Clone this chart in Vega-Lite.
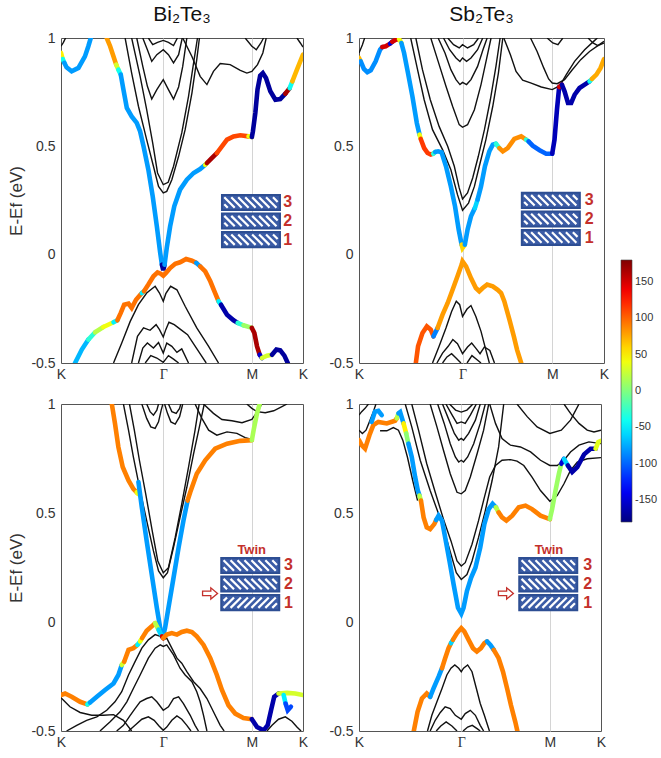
{
"$schema":"https://vega.github.io/schema/vega-lite/v6.json",
"background":"white",
"padding":{"left":7,"top":3,"right":0,"bottom":0},
"autosize":{"type":"pad"},
"config":{
 "view":{"stroke":"#555","strokeWidth":1},
 "font":"Liberation Sans",
 "axis":{"labelFont":"Liberation Sans","labelFontSize":14,"labelColor":"#333","titleFont":"Liberation Sans","titleFontSize":17,"titleFontWeight":"normal","titleColor":"#333","domain":false,"ticks":false},
 "title":{"font":"Liberation Sans","fontSize":21,"fontWeight":"normal","color":"#111","offset":6}
},
"datasets":{
"bands":[
{"p":1,"b":1,"k":0.265,"e":1},{"p":1,"b":1,"k":0.292,"e":0.838},{"p":1,"b":1,"k":0.320,"e":0.685},{"p":1,"b":1,"k":0.354,"e":0.531},{"p":1,"b":1,"k":0.382,"e":0.408},{"p":1,"b":1,"k":0.403,"e":0.315},{"p":1,"b":1,"k":0.4226,"e":0.285},{"p":1,"b":1,"k":0.437,"e":0.292},{"p":1,"b":1,"k":0.458,"e":0.346},{"p":1,"b":1,"k":0.486,"e":0.454},{"p":1,"b":1,"k":0.513,"e":0.577},{"p":1,"b":1,"k":0.541,"e":0.746},{"p":1,"b":1,"k":0.561,"e":0.9},{"p":1,"b":1,"k":0.572,"e":1},
{"p":1,"b":2,"k":0.292,"e":1},{"p":1,"b":2,"k":0.327,"e":0.823},{"p":1,"b":2,"k":0.354,"e":0.669},{"p":1,"b":2,"k":0.379,"e":0.515},{"p":1,"b":2,"k":0.399,"e":0.377},{"p":1,"b":2,"k":0.4226,"e":0.323},{"p":1,"b":2,"k":0.443,"e":0.334},{"p":1,"b":2,"k":0.465,"e":0.408},{"p":1,"b":2,"k":0.499,"e":0.562},{"p":1,"b":2,"k":0.527,"e":0.731},{"p":1,"b":2,"k":0.550,"e":0.9},{"p":1,"b":2,"k":0.564,"e":1},
{"p":1,"b":3,"k":0.313,"e":1},{"p":1,"b":3,"k":0.338,"e":0.869},{"p":1,"b":3,"k":0.357,"e":0.777},{"p":1,"b":3,"k":0.375,"e":0.718},{"p":1,"b":3,"k":0.396,"e":0.762},{"p":1,"b":3,"k":0.4226,"e":0.808},{"p":1,"b":3,"k":0.444,"e":0.762},{"p":1,"b":3,"k":0.465,"e":0.718},{"p":1,"b":3,"k":0.486,"e":0.774},{"p":1,"b":3,"k":0.503,"e":0.869},{"p":1,"b":3,"k":0.520,"e":1},
{"p":1,"b":4,"k":0.338,"e":1},{"p":1,"b":4,"k":0.357,"e":0.946},{"p":1,"b":4,"k":0.375,"e":0.892},{"p":1,"b":4,"k":0.396,"e":0.923},{"p":1,"b":4,"k":0.4226,"e":0.946},{"p":1,"b":4,"k":0.444,"e":0.923},{"p":1,"b":4,"k":0.465,"e":0.885},{"p":1,"b":4,"k":0.486,"e":0.923},{"p":1,"b":4,"k":0.501,"e":1},
{"p":1,"b":5,"k":0.361,"e":1},{"p":1,"b":5,"k":0.379,"e":0.969},{"p":1,"b":5,"k":0.399,"e":0.98},{"p":1,"b":5,"k":0.4226,"e":0.989},{"p":1,"b":5,"k":0.444,"e":0.98},{"p":1,"b":5,"k":0.465,"e":0.965},{"p":1,"b":5,"k":0.481,"e":1},
{"p":1,"b":6,"k":0.503,"e":1},{"p":1,"b":6,"k":0.541,"e":0.915},{"p":1,"b":6,"k":0.575,"e":0.823},{"p":1,"b":6,"k":0.603,"e":0.785},{"p":1,"b":6,"k":0.630,"e":0.846},{"p":1,"b":6,"k":0.658,"e":0.882},{"p":1,"b":6,"k":0.699,"e":0.877},{"p":1,"b":6,"k":0.741,"e":0.851},{"p":1,"b":6,"k":0.768,"e":0.838},{"p":1,"b":6,"k":0.7887,"e":0.846},{"p":1,"b":6,"k":0.812,"e":0.877},{"p":1,"b":6,"k":0.834,"e":0.931},{"p":1,"b":6,"k":0.848,"e":1},
{"p":1,"b":7,"k":0.761,"e":1},{"p":1,"b":7,"k":0.7887,"e":0.962},{"p":1,"b":7,"k":0.807,"e":0.946},{"p":1,"b":7,"k":0.826,"e":0.977},{"p":1,"b":7,"k":0.837,"e":1},
{"p":1,"b":8,"k":0,"e":0.962},{"p":1,"b":8,"k":0.010,"e":0.98},{"p":1,"b":8,"k":0.019,"e":1},
{"p":1,"b":9,"k":0.975,"e":1},{"p":1,"b":9,"k":0.989,"e":0.977},{"p":1,"b":9,"k":1,"e":0.958},
{"p":1,"b":10,"k":0.217,"e":-0.5},{"p":1,"b":10,"k":0.251,"e":-0.408},{"p":1,"b":10,"k":0.286,"e":-0.308},{"p":1,"b":10,"k":0.320,"e":-0.231},{"p":1,"b":10,"k":0.354,"e":-0.177},{"p":1,"b":10,"k":0.389,"e":-0.146},{"p":1,"b":10,"k":0.407,"e":-0.177},{"p":1,"b":10,"k":0.4226,"e":-0.215},{"p":1,"b":10,"k":0.433,"e":-0.18},{"p":1,"b":10,"k":0.453,"e":-0.146},{"p":1,"b":10,"k":0.479,"e":-0.162},{"p":1,"b":10,"k":0.513,"e":-0.238},{"p":1,"b":10,"k":0.561,"e":-0.338},{"p":1,"b":10,"k":0.610,"e":-0.423},{"p":1,"b":10,"k":0.651,"e":-0.5},
{"p":1,"b":11,"k":0.292,"e":-0.5},{"p":1,"b":11,"k":0.316,"e":-0.377},{"p":1,"b":11,"k":0.341,"e":-0.338},{"p":1,"b":11,"k":0.368,"e":-0.349},{"p":1,"b":11,"k":0.393,"e":-0.323},{"p":1,"b":11,"k":0.407,"e":-0.346},{"p":1,"b":11,"k":0.4226,"e":-0.38},{"p":1,"b":11,"k":0.433,"e":-0.346},{"p":1,"b":11,"k":0.446,"e":-0.312},{"p":1,"b":11,"k":0.468,"e":-0.323},{"p":1,"b":11,"k":0.495,"e":-0.346},{"p":1,"b":11,"k":0.523,"e":-0.369},{"p":1,"b":11,"k":0.550,"e":-0.415},{"p":1,"b":11,"k":0.578,"e":-0.462},{"p":1,"b":11,"k":0.6,"e":-0.5},
{"p":1,"b":12,"k":0.320,"e":-0.5},{"p":1,"b":12,"k":0.338,"e":-0.431},{"p":1,"b":12,"k":0.357,"e":-0.408},{"p":1,"b":12,"k":0.382,"e":-0.431},{"p":1,"b":12,"k":0.403,"e":-0.405},{"p":1,"b":12,"k":0.4226,"e":-0.454},{"p":1,"b":12,"k":0.437,"e":-0.408},{"p":1,"b":12,"k":0.458,"e":-0.423},{"p":1,"b":12,"k":0.479,"e":-0.451},{"p":1,"b":12,"k":0.499,"e":-0.435},{"p":1,"b":12,"k":0.527,"e":-0.5},
{"p":1,"b":13,"k":0.348,"e":-0.5},{"p":1,"b":13,"k":0.371,"e":-0.466},{"p":1,"b":13,"k":0.396,"e":-0.477},{"p":1,"b":13,"k":0.4226,"e":-0.497},{"p":1,"b":13,"k":0.444,"e":-0.466},{"p":1,"b":13,"k":0.465,"e":-0.482},{"p":1,"b":13,"k":0.486,"e":-0.5},

{"p":2,"b":1,"k":0.211,"e":1},{"p":2,"b":1,"k":0.239,"e":0.854},{"p":2,"b":1,"k":0.266,"e":0.715},{"p":2,"b":1,"k":0.300,"e":0.577},{"p":2,"b":1,"k":0.341,"e":0.485},{"p":2,"b":1,"k":0.375,"e":0.392},{"p":2,"b":1,"k":0.402,"e":0.277},{"p":2,"b":1,"k":0.4226,"e":0.205},{"p":2,"b":1,"k":0.447,"e":0.238},{"p":2,"b":1,"k":0.471,"e":0.315},{"p":2,"b":1,"k":0.491,"e":0.408},{"p":2,"b":1,"k":0.518,"e":0.531},{"p":2,"b":1,"k":0.546,"e":0.685},{"p":2,"b":1,"k":0.569,"e":0.838},{"p":2,"b":1,"k":0.587,"e":1},
{"p":2,"b":2,"k":0.232,"e":1},{"p":2,"b":2,"k":0.259,"e":0.854},{"p":2,"b":2,"k":0.291,"e":0.715},{"p":2,"b":2,"k":0.327,"e":0.592},{"p":2,"b":2,"k":0.362,"e":0.5},{"p":2,"b":2,"k":0.389,"e":0.408},{"p":2,"b":2,"k":0.409,"e":0.308},{"p":2,"b":2,"k":0.4226,"e":0.257},{"p":2,"b":2,"k":0.443,"e":0.285},{"p":2,"b":2,"k":0.464,"e":0.354},{"p":2,"b":2,"k":0.487,"e":0.454},{"p":2,"b":2,"k":0.512,"e":0.577},{"p":2,"b":2,"k":0.536,"e":0.715},{"p":2,"b":2,"k":0.559,"e":0.869},{"p":2,"b":2,"k":0.576,"e":1},
{"p":2,"b":3,"k":0.293,"e":1},{"p":2,"b":3,"k":0.323,"e":0.892},{"p":2,"b":3,"k":0.355,"e":0.777},{"p":2,"b":3,"k":0.382,"e":0.685},{"p":2,"b":3,"k":0.409,"e":0.6},{"p":2,"b":3,"k":0.4226,"e":0.588},{"p":2,"b":3,"k":0.443,"e":0.6},{"p":2,"b":3,"k":0.471,"e":0.669},{"p":2,"b":3,"k":0.498,"e":0.785},{"p":2,"b":3,"k":0.520,"e":0.9},{"p":2,"b":3,"k":0.539,"e":1},
{"p":2,"b":4,"k":0.323,"e":1},{"p":2,"b":4,"k":0.351,"e":0.931},{"p":2,"b":4,"k":0.375,"e":0.854},{"p":2,"b":4,"k":0.396,"e":0.808},{"p":2,"b":4,"k":0.412,"e":0.785},{"p":2,"b":4,"k":0.4226,"e":0.795},{"p":2,"b":4,"k":0.439,"e":0.785},{"p":2,"b":4,"k":0.457,"e":0.808},{"p":2,"b":4,"k":0.484,"e":0.869},{"p":2,"b":4,"k":0.506,"e":0.946},{"p":2,"b":4,"k":0.523,"e":1},
{"p":2,"b":5,"k":0.345,"e":1},{"p":2,"b":5,"k":0.370,"e":0.946},{"p":2,"b":5,"k":0.396,"e":0.908},{"p":2,"b":5,"k":0.412,"e":0.892},{"p":2,"b":5,"k":0.4226,"e":0.908},{"p":2,"b":5,"k":0.439,"e":0.892},{"p":2,"b":5,"k":0.457,"e":0.908},{"p":2,"b":5,"k":0.484,"e":0.946},{"p":2,"b":5,"k":0.505,"e":1},
{"p":2,"b":6,"k":0.362,"e":1},{"p":2,"b":6,"k":0.386,"e":0.969},{"p":2,"b":6,"k":0.409,"e":0.954},{"p":2,"b":6,"k":0.4226,"e":0.969},{"p":2,"b":6,"k":0.443,"e":0.954},{"p":2,"b":6,"k":0.468,"e":0.969},{"p":2,"b":6,"k":0.488,"e":1},
{"p":2,"b":7,"k":0.591,"e":1},{"p":2,"b":7,"k":0.618,"e":0.923},{"p":2,"b":7,"k":0.641,"e":0.846},{"p":2,"b":7,"k":0.668,"e":0.805},{"p":2,"b":7,"k":0.703,"e":0.792},{"p":2,"b":7,"k":0.744,"e":0.774},{"p":2,"b":7,"k":0.7887,"e":0.762},{"p":2,"b":7,"k":0.82,"e":0.78},{"p":2,"b":7,"k":0.846,"e":0.831},{"p":2,"b":7,"k":0.880,"e":0.892},{"p":2,"b":7,"k":0.921,"e":0.946},{"p":2,"b":7,"k":0.962,"e":0.989},{"p":2,"b":7,"k":0.973,"e":1},
{"p":2,"b":8,"k":0.700,"e":1},{"p":2,"b":8,"k":0.727,"e":0.938},{"p":2,"b":8,"k":0.754,"e":0.862},{"p":2,"b":8,"k":0.774,"e":0.811},{"p":2,"b":8,"k":0.7887,"e":0.792},{"p":2,"b":8,"k":0.809,"e":0.789},{"p":2,"b":8,"k":0.839,"e":0.808},{"p":2,"b":8,"k":0.869,"e":0.851},{"p":2,"b":8,"k":0.905,"e":0.9},{"p":2,"b":8,"k":0.941,"e":0.938},{"p":2,"b":8,"k":0.975,"e":0.965},{"p":2,"b":8,"k":1,"e":0.977},
{"p":2,"b":9,"k":0,"e":0.931},{"p":2,"b":9,"k":0.014,"e":0.969},{"p":2,"b":9,"k":0.023,"e":1},
{"p":2,"b":10,"k":0.768,"e":1},{"p":2,"b":10,"k":0.791,"e":0.977},{"p":2,"b":10,"k":0.812,"e":0.969},{"p":2,"b":10,"k":0.832,"e":1},
{"p":2,"b":11,"k":0.935,"e":1},{"p":2,"b":11,"k":0.955,"e":0.977},{"p":2,"b":11,"k":0.975,"e":0.965},{"p":2,"b":11,"k":1,"e":0.985},
{"p":2,"b":12,"k":0.300,"e":-0.5},{"p":2,"b":12,"k":0.327,"e":-0.423},{"p":2,"b":12,"k":0.355,"e":-0.338},{"p":2,"b":12,"k":0.378,"e":-0.262},{"p":2,"b":12,"k":0.397,"e":-0.215},{"p":2,"b":12,"k":0.411,"e":-0.231},{"p":2,"b":12,"k":0.4226,"e":-0.285},{"p":2,"b":12,"k":0.441,"e":-0.251},{"p":2,"b":12,"k":0.457,"e":-0.235},{"p":2,"b":12,"k":0.477,"e":-0.285},{"p":2,"b":12,"k":0.498,"e":-0.354},{"p":2,"b":12,"k":0.514,"e":-0.423},{"p":2,"b":12,"k":0.532,"e":-0.5},
{"p":2,"b":13,"k":0.318,"e":-0.5},{"p":2,"b":13,"k":0.341,"e":-0.454},{"p":2,"b":13,"k":0.364,"e":-0.423},{"p":2,"b":13,"k":0.383,"e":-0.392},{"p":2,"b":13,"k":0.402,"e":-0.411},{"p":2,"b":13,"k":0.4226,"e":-0.457},{"p":2,"b":13,"k":0.443,"e":-0.426},{"p":2,"b":13,"k":0.460,"e":-0.408},{"p":2,"b":13,"k":0.479,"e":-0.435},{"p":2,"b":13,"k":0.494,"e":-0.457},{"p":2,"b":13,"k":0.512,"e":-0.426},{"p":2,"b":13,"k":0.534,"e":-0.442},{"p":2,"b":13,"k":0.553,"e":-0.5},
{"p":2,"b":14,"k":0.341,"e":-0.5},{"p":2,"b":14,"k":0.359,"e":-0.472},{"p":2,"b":14,"k":0.378,"e":-0.457},{"p":2,"b":14,"k":0.397,"e":-0.478},{"p":2,"b":14,"k":0.416,"e":-0.5},
{"p":2,"b":15,"k":0.441,"e":-0.5},{"p":2,"b":15,"k":0.461,"e":-0.466},{"p":2,"b":15,"k":0.482,"e":-0.485},{"p":2,"b":15,"k":0.498,"e":-0.5},

{"p":3,"b":1,"k":0.258,"e":1},{"p":3,"b":1,"k":0.279,"e":0.88},{"p":3,"b":1,"k":0.299,"e":0.757},{"p":3,"b":1,"k":0.327,"e":0.603},{"p":3,"b":1,"k":0.354,"e":0.465},{"p":3,"b":1,"k":0.382,"e":0.326},{"p":3,"b":1,"k":0.403,"e":0.234},{"p":3,"b":1,"k":0.4226,"e":0.203},{"p":3,"b":1,"k":0.44,"e":0.226},{"p":3,"b":1,"k":0.465,"e":0.342},{"p":3,"b":1,"k":0.492,"e":0.48},{"p":3,"b":1,"k":0.520,"e":0.618},{"p":3,"b":1,"k":0.548,"e":0.772},{"p":3,"b":1,"k":0.575,"e":0.911},{"p":3,"b":1,"k":0.592,"e":1},
{"p":3,"b":2,"k":0.283,"e":1},{"p":3,"b":2,"k":0.303,"e":0.88},{"p":3,"b":2,"k":0.324,"e":0.742},{"p":3,"b":2,"k":0.350,"e":0.588},{"p":3,"b":2,"k":0.377,"e":0.418},{"p":3,"b":2,"k":0.400,"e":0.28},{"p":3,"b":2,"k":0.4226,"e":0.226},{"p":3,"b":2,"k":0.444,"e":0.249},{"p":3,"b":2,"k":0.472,"e":0.388},{"p":3,"b":2,"k":0.499,"e":0.542},{"p":3,"b":2,"k":0.527,"e":0.711},{"p":3,"b":2,"k":0.554,"e":0.88},{"p":3,"b":2,"k":0.571,"e":1},
{"p":3,"b":3,"k":0.334,"e":1},{"p":3,"b":3,"k":0.354,"e":0.934},{"p":3,"b":3,"k":0.371,"e":0.895},{"p":3,"b":3,"k":0.389,"e":0.888},{"p":3,"b":3,"k":0.403,"e":0.918},{"p":3,"b":3,"k":0.414,"e":0.972},{"p":3,"b":3,"k":0.421,"e":1},
{"p":3,"b":4,"k":0.428,"e":1},{"p":3,"b":4,"k":0.44,"e":0.957},{"p":3,"b":4,"k":0.454,"e":0.918},{"p":3,"b":4,"k":0.472,"e":0.908},{"p":3,"b":4,"k":0.49,"e":0.942},{"p":3,"b":4,"k":0.503,"e":1},
{"p":3,"b":5,"k":0.354,"e":1},{"p":3,"b":5,"k":0.368,"e":0.965},{"p":3,"b":5,"k":0.382,"e":0.949},{"p":3,"b":5,"k":0.396,"e":0.972},{"p":3,"b":5,"k":0.403,"e":1},
{"p":3,"b":6,"k":0.444,"e":1},{"p":3,"b":6,"k":0.458,"e":0.965},{"p":3,"b":6,"k":0.476,"e":0.957},{"p":3,"b":6,"k":0.49,"e":0.98},{"p":3,"b":6,"k":0.495,"e":1},
{"p":3,"b":7,"k":0.554,"e":1},{"p":3,"b":7,"k":0.582,"e":0.934},{"p":3,"b":7,"k":0.61,"e":0.88},{"p":3,"b":7,"k":0.644,"e":0.857},{"p":3,"b":7,"k":0.686,"e":0.872},{"p":3,"b":7,"k":0.727,"e":0.865},{"p":3,"b":7,"k":0.761,"e":0.846},{"p":3,"b":7,"k":0.7887,"e":0.837},
{"p":3,"b":8,"k":0.589,"e":1},{"p":3,"b":8,"k":0.630,"e":0.957},{"p":3,"b":8,"k":0.665,"e":0.929},{"p":3,"b":8,"k":0.706,"e":0.923},{"p":3,"b":8,"k":0.748,"e":0.914},{"p":3,"b":8,"k":0.7887,"e":0.929},{"p":3,"b":8,"k":0.812,"e":0.965},{"p":3,"b":8,"k":0.830,"e":1},
{"p":3,"b":9,"k":0.768,"e":1},{"p":3,"b":9,"k":0.7887,"e":0.98},{"p":3,"b":9,"k":0.810,"e":0.965},{"p":3,"b":9,"k":0.844,"e":0.96},{"p":3,"b":9,"k":0.879,"e":0.969},{"p":3,"b":9,"k":0.913,"e":0.988},{"p":3,"b":9,"k":0.934,"e":1},
{"p":3,"b":10,"k":0,"e":-0.348},{"p":3,"b":10,"k":0.037,"e":-0.389},{"p":3,"b":10,"k":0.079,"e":-0.415},{"p":3,"b":10,"k":0.127,"e":-0.428},{"p":3,"b":10,"k":0.175,"e":-0.428},{"p":3,"b":10,"k":0.217,"e":-0.425},{"p":3,"b":10,"k":0.258,"e":-0.451},{"p":3,"b":10,"k":0.292,"e":-0.5},
{"p":3,"b":11,"k":0.023,"e":-0.5},{"p":3,"b":11,"k":0.065,"e":-0.474},{"p":3,"b":11,"k":0.106,"e":-0.451},{"p":3,"b":11,"k":0.148,"e":-0.435},{"p":3,"b":11,"k":0.189,"e":-0.405},{"p":3,"b":11,"k":0.223,"e":-0.366},{"p":3,"b":11,"k":0.251,"e":-0.32},{"p":3,"b":11,"k":0.279,"e":-0.243},{"p":3,"b":11,"k":0.306,"e":-0.182},{"p":3,"b":11,"k":0.334,"e":-0.12},{"p":3,"b":11,"k":0.361,"e":-0.082},{"p":3,"b":11,"k":0.389,"e":-0.058},{"p":3,"b":11,"k":0.410,"e":-0.066},{"p":3,"b":11,"k":0.4226,"e":-0.082},{"p":3,"b":11,"k":0.437,"e":-0.074},{"p":3,"b":11,"k":0.458,"e":-0.12},{"p":3,"b":11,"k":0.479,"e":-0.166},{"p":3,"b":11,"k":0.499,"e":-0.189},{"p":3,"b":11,"k":0.520,"e":-0.228},{"p":3,"b":11,"k":0.548,"e":-0.274},{"p":3,"b":11,"k":0.575,"e":-0.305},{"p":3,"b":11,"k":0.603,"e":-0.351},{"p":3,"b":11,"k":0.630,"e":-0.412},{"p":3,"b":11,"k":0.658,"e":-0.474},{"p":3,"b":11,"k":0.674,"e":-0.5},
{"p":3,"b":12,"k":0.161,"e":-0.5},{"p":3,"b":12,"k":0.203,"e":-0.458},{"p":3,"b":12,"k":0.244,"e":-0.412},{"p":3,"b":12,"k":0.272,"e":-0.366},{"p":3,"b":12,"k":0.299,"e":-0.305},{"p":3,"b":12,"k":0.327,"e":-0.243},{"p":3,"b":12,"k":0.361,"e":-0.166},{"p":3,"b":12,"k":0.389,"e":-0.12},{"p":3,"b":12,"k":0.410,"e":-0.105},{"p":3,"b":12,"k":0.4226,"e":-0.112},{"p":3,"b":12,"k":0.437,"e":-0.105},{"p":3,"b":12,"k":0.465,"e":-0.151},{"p":3,"b":12,"k":0.492,"e":-0.212},{"p":3,"b":12,"k":0.513,"e":-0.243},{"p":3,"b":12,"k":0.541,"e":-0.274},{"p":3,"b":12,"k":0.561,"e":-0.32},{"p":3,"b":12,"k":0.575,"e":-0.366},{"p":3,"b":12,"k":0.589,"e":-0.428},{"p":3,"b":12,"k":0.603,"e":-0.5},
{"p":3,"b":13,"k":0.230,"e":-0.5},{"p":3,"b":13,"k":0.258,"e":-0.474},{"p":3,"b":13,"k":0.286,"e":-0.428},{"p":3,"b":13,"k":0.306,"e":-0.397},{"p":3,"b":13,"k":0.327,"e":-0.366},{"p":3,"b":13,"k":0.354,"e":-0.351},{"p":3,"b":13,"k":0.375,"e":-0.343},{"p":3,"b":13,"k":0.396,"e":-0.366},{"p":3,"b":13,"k":0.4226,"e":-0.405},{"p":3,"b":13,"k":0.444,"e":-0.389},{"p":3,"b":13,"k":0.465,"e":-0.351},{"p":3,"b":13,"k":0.486,"e":-0.343},{"p":3,"b":13,"k":0.506,"e":-0.374},{"p":3,"b":13,"k":0.534,"e":-0.428},{"p":3,"b":13,"k":0.554,"e":-0.474},{"p":3,"b":13,"k":0.568,"e":-0.5},
{"p":3,"b":14,"k":0.279,"e":-0.5},{"p":3,"b":14,"k":0.306,"e":-0.474},{"p":3,"b":14,"k":0.334,"e":-0.446},{"p":3,"b":14,"k":0.361,"e":-0.435},{"p":3,"b":14,"k":0.385,"e":-0.451},{"p":3,"b":14,"k":0.405,"e":-0.477},{"p":3,"b":14,"k":0.4226,"e":-0.497},{"p":3,"b":14,"k":0.437,"e":-0.482},{"p":3,"b":14,"k":0.458,"e":-0.451},{"p":3,"b":14,"k":0.479,"e":-0.431},{"p":3,"b":14,"k":0.499,"e":-0.446},{"p":3,"b":14,"k":0.520,"e":-0.474},{"p":3,"b":14,"k":0.537,"e":-0.5},
{"p":3,"b":15,"k":0.851,"e":-0.5},{"p":3,"b":15,"k":0.872,"e":-0.474},{"p":3,"b":15,"k":0.899,"e":-0.446},{"p":3,"b":15,"k":0.927,"e":-0.435},{"p":3,"b":15,"k":0.954,"e":-0.455},{"p":3,"b":15,"k":0.975,"e":-0.482},{"p":3,"b":15,"k":0.992,"e":-0.5},

{"p":4,"b":1,"k":0.191,"e":1},{"p":4,"b":1,"k":0.218,"e":0.895},{"p":4,"b":1,"k":0.253,"e":0.742},{"p":4,"b":1,"k":0.294,"e":0.603},{"p":4,"b":1,"k":0.329,"e":0.495},{"p":4,"b":1,"k":0.356,"e":0.403},{"p":4,"b":1,"k":0.380,"e":0.311},{"p":4,"b":1,"k":0.402,"e":0.226},{"p":4,"b":1,"k":0.4226,"e":0.195},{"p":4,"b":1,"k":0.446,"e":0.218},{"p":4,"b":1,"k":0.467,"e":0.28},{"p":4,"b":1,"k":0.494,"e":0.388},{"p":4,"b":1,"k":0.522,"e":0.511},{"p":4,"b":1,"k":0.550,"e":0.649},{"p":4,"b":1,"k":0.577,"e":0.803},{"p":4,"b":1,"k":0.598,"e":1},
{"p":4,"b":2,"k":0.218,"e":1},{"p":4,"b":2,"k":0.246,"e":0.88},{"p":4,"b":2,"k":0.280,"e":0.726},{"p":4,"b":2,"k":0.315,"e":0.595},{"p":4,"b":2,"k":0.349,"e":0.472},{"p":4,"b":2,"k":0.380,"e":0.372},{"p":4,"b":2,"k":0.405,"e":0.28},{"p":4,"b":2,"k":0.4226,"e":0.257},{"p":4,"b":2,"k":0.439,"e":0.272},{"p":4,"b":2,"k":0.467,"e":0.357},{"p":4,"b":2,"k":0.494,"e":0.465},{"p":4,"b":2,"k":0.518,"e":0.572},{"p":4,"b":2,"k":0.540,"e":0.665},{"p":4,"b":2,"k":0.564,"e":0.718},{"p":4,"b":2,"k":0.591,"e":0.742},{"p":4,"b":2,"k":0.626,"e":0.745},{"p":4,"b":2,"k":0.653,"e":0.738},{"p":4,"b":2,"k":0.681,"e":0.718},{"p":4,"b":2,"k":0.715,"e":0.665},{"p":4,"b":2,"k":0.750,"e":0.603},{"p":4,"b":2,"k":0.7887,"e":0.554},{"p":4,"b":2,"k":0.819,"e":0.58},{"p":4,"b":2,"k":0.847,"e":0.634},{"p":4,"b":2,"k":0.874,"e":0.695},{"p":4,"b":2,"k":0.902,"e":0.734},{"p":4,"b":2,"k":0.943,"e":0.749},{"p":4,"b":2,"k":1,"e":0.754},
{"p":4,"b":3,"k":0.294,"e":1},{"p":4,"b":3,"k":0.322,"e":0.895},{"p":4,"b":3,"k":0.349,"e":0.788},{"p":4,"b":3,"k":0.377,"e":0.68},{"p":4,"b":3,"k":0.405,"e":0.595},{"p":4,"b":3,"k":0.4226,"e":0.588},{"p":4,"b":3,"k":0.439,"e":0.603},{"p":4,"b":3,"k":0.460,"e":0.665},{"p":4,"b":3,"k":0.488,"e":0.772},{"p":4,"b":3,"k":0.515,"e":0.88},{"p":4,"b":3,"k":0.536,"e":1},
{"p":4,"b":4,"k":0.325,"e":1},{"p":4,"b":4,"k":0.352,"e":0.911},{"p":4,"b":4,"k":0.377,"e":0.818},{"p":4,"b":4,"k":0.398,"e":0.757},{"p":4,"b":4,"k":0.412,"e":0.734},{"p":4,"b":4,"k":0.4226,"e":0.742},{"p":4,"b":4,"k":0.432,"e":0.734},{"p":4,"b":4,"k":0.449,"e":0.757},{"p":4,"b":4,"k":0.474,"e":0.818},{"p":4,"b":4,"k":0.501,"e":0.911},{"p":4,"b":4,"k":0.522,"e":1},
{"p":4,"b":5,"k":0.345,"e":1},{"p":4,"b":5,"k":0.372,"e":0.926},{"p":4,"b":5,"k":0.394,"e":0.865},{"p":4,"b":5,"k":0.412,"e":0.834},{"p":4,"b":5,"k":0.4226,"e":0.842},{"p":4,"b":5,"k":0.432,"e":0.834},{"p":4,"b":5,"k":0.453,"e":0.865},{"p":4,"b":5,"k":0.481,"e":0.926},{"p":4,"b":5,"k":0.501,"e":1},
{"p":4,"b":6,"k":0.359,"e":1},{"p":4,"b":6,"k":0.385,"e":0.949},{"p":4,"b":6,"k":0.405,"e":0.911},{"p":4,"b":6,"k":0.4226,"e":0.918},{"p":4,"b":6,"k":0.439,"e":0.911},{"p":4,"b":6,"k":0.460,"e":0.949},{"p":4,"b":6,"k":0.485,"e":1},
{"p":4,"b":7,"k":0.374,"e":1},{"p":4,"b":7,"k":0.399,"e":0.972},{"p":4,"b":7,"k":0.4226,"e":0.963},{"p":4,"b":7,"k":0.446,"e":0.972},{"p":4,"b":7,"k":0.471,"e":1},
{"p":4,"b":8,"k":0.540,"e":1},{"p":4,"b":8,"k":0.564,"e":0.911},{"p":4,"b":8,"k":0.591,"e":0.842},{"p":4,"b":8,"k":0.626,"e":0.811},{"p":4,"b":8,"k":0.667,"e":0.803},{"p":4,"b":8,"k":0.709,"e":0.78},{"p":4,"b":8,"k":0.750,"e":0.742},{"p":4,"b":8,"k":0.7887,"e":0.718},{"p":4,"b":8,"k":0.819,"e":0.718},{"p":4,"b":8,"k":0.847,"e":0.742},{"p":4,"b":8,"k":0.874,"e":0.78},{"p":4,"b":8,"k":0.909,"e":0.811},{"p":4,"b":8,"k":0.950,"e":0.826},{"p":4,"b":8,"k":1,"e":0.818},
{"p":4,"b":9,"k":0,"e":0.949},{"p":4,"b":9,"k":0.011,"e":0.965},{"p":4,"b":9,"k":0.025,"e":0.98},{"p":4,"b":9,"k":0.039,"e":1},
{"p":4,"b":10,"k":0,"e":0.88},{"p":4,"b":10,"k":0.014,"e":0.865},{"p":4,"b":10,"k":0.029,"e":0.88},{"p":4,"b":10,"k":0.043,"e":0.918},{"p":4,"b":10,"k":0.057,"e":0.957},{"p":4,"b":10,"k":0.070,"e":1},
{"p":4,"b":11,"k":0.087,"e":0.877},{"p":4,"b":11,"k":0.115,"e":0.877},{"p":4,"b":11,"k":0.142,"e":0.892},{"p":4,"b":11,"k":0.163,"e":0.88},{"p":4,"b":11,"k":0.181,"e":0.834},{"p":4,"b":11,"k":0.2,"e":0.757},{"p":4,"b":11,"k":0.222,"e":0.649},{"p":4,"b":11,"k":0.242,"e":0.557},
{"p":4,"b":12,"k":0.847,"e":1},{"p":4,"b":12,"k":0.874,"e":0.957},{"p":4,"b":12,"k":0.909,"e":0.911},{"p":4,"b":12,"k":0.943,"e":0.88},{"p":4,"b":12,"k":0.971,"e":0.872},{"p":4,"b":12,"k":1,"e":0.88},
{"p":4,"b":13,"k":0.653,"e":1},{"p":4,"b":13,"k":0.695,"e":0.942},{"p":4,"b":13,"k":0.736,"e":0.895},{"p":4,"b":13,"k":0.7887,"e":0.865},{"p":4,"b":13,"k":0.836,"e":0.88},{"p":4,"b":13,"k":0.874,"e":0.926},{"p":4,"b":13,"k":0.909,"e":1},
{"p":4,"b":14,"k":0.283,"e":-0.5},{"p":4,"b":14,"k":0.301,"e":-0.428},{"p":4,"b":14,"k":0.322,"e":-0.366},{"p":4,"b":14,"k":0.343,"e":-0.305},{"p":4,"b":14,"k":0.363,"e":-0.243},{"p":4,"b":14,"k":0.380,"e":-0.212},{"p":4,"b":14,"k":0.396,"e":-0.197},{"p":4,"b":14,"k":0.412,"e":-0.212},{"p":4,"b":14,"k":0.4226,"e":-0.228},{"p":4,"b":14,"k":0.432,"e":-0.212},{"p":4,"b":14,"k":0.449,"e":-0.197},{"p":4,"b":14,"k":0.467,"e":-0.228},{"p":4,"b":14,"k":0.485,"e":-0.305},{"p":4,"b":14,"k":0.501,"e":-0.374},{"p":4,"b":14,"k":0.518,"e":-0.428},{"p":4,"b":14,"k":0.539,"e":-0.5},
{"p":4,"b":15,"k":0.294,"e":-0.5},{"p":4,"b":15,"k":0.315,"e":-0.451},{"p":4,"b":15,"k":0.336,"e":-0.415},{"p":4,"b":15,"k":0.356,"e":-0.389},{"p":4,"b":15,"k":0.377,"e":-0.397},{"p":4,"b":15,"k":0.398,"e":-0.428},{"p":4,"b":15,"k":0.4226,"e":-0.446},{"p":4,"b":15,"k":0.439,"e":-0.42},{"p":4,"b":15,"k":0.460,"e":-0.405},{"p":4,"b":15,"k":0.481,"e":-0.428},{"p":4,"b":15,"k":0.501,"e":-0.474},{"p":4,"b":15,"k":0.515,"e":-0.5},
{"p":4,"b":16,"k":0.319,"e":-0.5},{"p":4,"b":16,"k":0.338,"e":-0.477},{"p":4,"b":16,"k":0.36,"e":-0.458},{"p":4,"b":16,"k":0.384,"e":-0.477},{"p":4,"b":16,"k":0.405,"e":-0.5},
{"p":4,"b":17,"k":0.43,"e":-0.5},{"p":4,"b":17,"k":0.449,"e":-0.482},{"p":4,"b":17,"k":0.468,"e":-0.474},{"p":4,"b":17,"k":0.488,"e":-0.489},{"p":4,"b":17,"k":0.501,"e":-0.5}
],
"hl":[
{"p":1,"s":1,"v":50,"k":0,"e":0.931},{"p":1,"s":1,"v":50,"k":0.007,"e":0.903},
{"p":1,"s":2,"v":-40,"k":0.007,"e":0.903},{"p":1,"s":2,"v":-40,"k":0.014,"e":0.885},
{"p":1,"s":3,"v":-80,"k":0.014,"e":0.885},{"p":1,"s":3,"v":-80,"k":0.023,"e":0.865},{"p":1,"s":3,"v":-80,"k":0.044,"e":0.846},{"p":1,"s":3,"v":-80,"k":0.072,"e":0.862},{"p":1,"s":3,"v":-80,"k":0.099,"e":0.915},{"p":1,"s":3,"v":-80,"k":0.113,"e":0.962},{"p":1,"s":3,"v":-80,"k":0.123,"e":1},
{"p":1,"s":4,"v":80,"k":0.189,"e":1},{"p":1,"s":4,"v":80,"k":0.203,"e":0.962},{"p":1,"s":4,"v":80,"k":0.217,"e":0.915},{"p":1,"s":4,"v":80,"k":0.228,"e":0.877},
{"p":1,"s":5,"v":30,"k":0.228,"e":0.877},{"p":1,"s":5,"v":30,"k":0.237,"e":0.854},
{"p":1,"s":6,"v":-40,"k":0.237,"e":0.854},{"p":1,"s":6,"v":-40,"k":0.247,"e":0.831},
{"p":1,"s":7,"v":-80,"k":0.247,"e":0.831},{"p":1,"s":7,"v":-80,"k":0.258,"e":0.762},{"p":1,"s":7,"v":-80,"k":0.272,"e":0.677},{"p":1,"s":7,"v":-80,"k":0.292,"e":0.638},{"p":1,"s":7,"v":-80,"k":0.313,"e":0.608},{"p":1,"s":7,"v":-80,"k":0.327,"e":0.569},{"p":1,"s":7,"v":-80,"k":0.341,"e":0.5},{"p":1,"s":7,"v":-80,"k":0.361,"e":0.392},{"p":1,"s":7,"v":-80,"k":0.379,"e":0.269},{"p":1,"s":7,"v":-80,"k":0.396,"e":0.131},{"p":1,"s":7,"v":-80,"k":0.410,"e":0.008},{"p":1,"s":7,"v":-80,"k":0.417,"e":-0.046},
{"p":1,"s":8,"v":-170,"k":0.417,"e":-0.046},{"p":1,"s":8,"v":-170,"k":0.4226,"e":-0.072},{"p":1,"s":8,"v":-170,"k":0.428,"e":-0.046},
{"p":1,"s":9,"v":-80,"k":0.428,"e":-0.046},{"p":1,"s":9,"v":-80,"k":0.437,"e":0.031},{"p":1,"s":9,"v":-80,"k":0.451,"e":0.131},{"p":1,"s":9,"v":-80,"k":0.468,"e":0.223},{"p":1,"s":9,"v":-80,"k":0.492,"e":0.3},{"p":1,"s":9,"v":-80,"k":0.52,"e":0.346},{"p":1,"s":9,"v":-80,"k":0.548,"e":0.377},{"p":1,"s":9,"v":-80,"k":0.575,"e":0.395},{"p":1,"s":9,"v":-80,"k":0.596,"e":0.415},
{"p":1,"s":10,"v":40,"k":0.596,"e":0.415},{"p":1,"s":10,"v":40,"k":0.603,"e":0.423},
{"p":1,"s":11,"v":165,"k":0.603,"e":0.423},{"p":1,"s":11,"v":165,"k":0.623,"e":0.446},{"p":1,"s":11,"v":165,"k":0.644,"e":0.469},
{"p":1,"s":12,"v":110,"k":0.644,"e":0.469},{"p":1,"s":12,"v":110,"k":0.665,"e":0.5},{"p":1,"s":12,"v":110,"k":0.686,"e":0.531},{"p":1,"s":12,"v":110,"k":0.713,"e":0.546},{"p":1,"s":12,"v":110,"k":0.741,"e":0.551},{"p":1,"s":12,"v":110,"k":0.775,"e":0.546},
{"p":1,"s":13,"v":40,"k":0.775,"e":0.546},{"p":1,"s":13,"v":40,"k":0.7887,"e":0.543},
{"p":1,"s":14,"v":-170,"k":0.7887,"e":0.543},{"p":1,"s":14,"v":-170,"k":0.793,"e":0.569},{"p":1,"s":14,"v":-170,"k":0.803,"e":0.654},{"p":1,"s":14,"v":-170,"k":0.812,"e":0.762},{"p":1,"s":14,"v":-170,"k":0.823,"e":0.826},{"p":1,"s":14,"v":-170,"k":0.834,"e":0.838},{"p":1,"s":14,"v":-170,"k":0.847,"e":0.815},{"p":1,"s":14,"v":-170,"k":0.865,"e":0.754},{"p":1,"s":14,"v":-170,"k":0.886,"e":0.715},{"p":1,"s":14,"v":-170,"k":0.906,"e":0.718},{"p":1,"s":14,"v":-170,"k":0.927,"e":0.743},
{"p":1,"s":15,"v":165,"k":0.927,"e":0.743},{"p":1,"s":15,"v":165,"k":0.945,"e":0.769},
{"p":1,"s":16,"v":-40,"k":0.945,"e":0.769},{"p":1,"s":16,"v":-40,"k":0.956,"e":0.8},
{"p":1,"s":17,"v":70,"k":0.956,"e":0.8},{"p":1,"s":17,"v":70,"k":0.975,"e":0.854},{"p":1,"s":17,"v":70,"k":1,"e":0.923},
{"p":1,"s":18,"v":-70,"k":0.058,"e":-0.5},{"p":1,"s":18,"v":-70,"k":0.086,"e":-0.438},{"p":1,"s":18,"v":-70,"k":0.113,"e":-0.392},
{"p":1,"s":19,"v":-30,"k":0.113,"e":-0.392},{"p":1,"s":19,"v":-30,"k":0.141,"e":-0.358},
{"p":1,"s":20,"v":20,"k":0.141,"e":-0.358},{"p":1,"s":20,"v":20,"k":0.175,"e":-0.334},
{"p":1,"s":21,"v":40,"k":0.175,"e":-0.334},{"p":1,"s":21,"v":40,"k":0.217,"e":-0.312},
{"p":1,"s":22,"v":-50,"k":0.217,"e":-0.312},{"p":1,"s":22,"v":-50,"k":0.233,"e":-0.303},
{"p":1,"s":23,"v":95,"k":0.233,"e":-0.303},{"p":1,"s":23,"v":95,"k":0.247,"e":-0.269},{"p":1,"s":23,"v":95,"k":0.261,"e":-0.231},{"p":1,"s":23,"v":95,"k":0.279,"e":-0.226},{"p":1,"s":23,"v":95,"k":0.292,"e":-0.246},{"p":1,"s":23,"v":95,"k":0.310,"e":-0.208},{"p":1,"s":23,"v":95,"k":0.334,"e":-0.177},
{"p":1,"s":24,"v":-50,"k":0.334,"e":-0.177},{"p":1,"s":24,"v":-50,"k":0.343,"e":-0.169},
{"p":1,"s":25,"v":95,"k":0.343,"e":-0.169},{"p":1,"s":25,"v":95,"k":0.361,"e":-0.138},{"p":1,"s":25,"v":95,"k":0.382,"e":-0.1},{"p":1,"s":25,"v":95,"k":0.399,"e":-0.082},{"p":1,"s":25,"v":95,"k":0.412,"e":-0.088},{"p":1,"s":25,"v":95,"k":0.4226,"e":-0.097},{"p":1,"s":25,"v":95,"k":0.433,"e":-0.085},{"p":1,"s":25,"v":95,"k":0.451,"e":-0.062},{"p":1,"s":25,"v":95,"k":0.472,"e":-0.042},{"p":1,"s":25,"v":95,"k":0.492,"e":-0.035},{"p":1,"s":25,"v":95,"k":0.517,"e":-0.02},{"p":1,"s":25,"v":95,"k":0.541,"e":-0.028},{"p":1,"s":25,"v":95,"k":0.559,"e":-0.038},
{"p":1,"s":26,"v":-80,"k":0.559,"e":-0.038},{"p":1,"s":26,"v":-80,"k":0.575,"e":-0.054},
{"p":1,"s":27,"v":95,"k":0.575,"e":-0.054},{"p":1,"s":27,"v":95,"k":0.596,"e":-0.077},{"p":1,"s":27,"v":95,"k":0.617,"e":-0.123},{"p":1,"s":27,"v":95,"k":0.637,"e":-0.177},{"p":1,"s":27,"v":95,"k":0.651,"e":-0.215},
{"p":1,"s":28,"v":-50,"k":0.651,"e":-0.215},{"p":1,"s":28,"v":-50,"k":0.661,"e":-0.231},
{"p":1,"s":29,"v":-165,"k":0.661,"e":-0.231},{"p":1,"s":29,"v":-165,"k":0.686,"e":-0.277},{"p":1,"s":29,"v":-165,"k":0.713,"e":-0.303},{"p":1,"s":29,"v":-165,"k":0.730,"e":-0.315},
{"p":1,"s":30,"v":-30,"k":0.730,"e":-0.315},{"p":1,"s":30,"v":-30,"k":0.754,"e":-0.326},
{"p":1,"s":31,"v":10,"k":0.754,"e":-0.326},{"p":1,"s":31,"v":10,"k":0.7887,"e":-0.338},
{"p":1,"s":32,"v":165,"k":0.7887,"e":-0.338},{"p":1,"s":32,"v":165,"k":0.799,"e":-0.362},{"p":1,"s":32,"v":165,"k":0.810,"e":-0.423},{"p":1,"s":32,"v":165,"k":0.821,"e":-0.462},
{"p":1,"s":33,"v":-150,"k":0.821,"e":-0.462},{"p":1,"s":33,"v":-150,"k":0.830,"e":-0.477},
{"p":1,"s":34,"v":30,"k":0.830,"e":-0.477},{"p":1,"s":34,"v":30,"k":0.851,"e":-0.466},{"p":1,"s":34,"v":30,"k":0.872,"e":-0.462},
{"p":1,"s":35,"v":-170,"k":0.872,"e":-0.462},{"p":1,"s":35,"v":-170,"k":0.890,"e":-0.438},{"p":1,"s":35,"v":-170,"k":0.906,"e":-0.442},{"p":1,"s":35,"v":-170,"k":0.923,"e":-0.466},{"p":1,"s":35,"v":-170,"k":0.937,"e":-0.5},

{"p":2,"s":1,"v":70,"k":0,"e":0.908},{"p":2,"s":1,"v":70,"k":0.007,"e":0.892},
{"p":2,"s":2,"v":-85,"k":0.007,"e":0.892},{"p":2,"s":2,"v":-85,"k":0.020,"e":0.857},{"p":2,"s":2,"v":-85,"k":0.034,"e":0.842},{"p":2,"s":2,"v":-85,"k":0.048,"e":0.851},{"p":2,"s":2,"v":-85,"k":0.068,"e":0.892},{"p":2,"s":2,"v":-85,"k":0.086,"e":0.946},{"p":2,"s":2,"v":-85,"k":0.095,"e":0.958},
{"p":2,"s":3,"v":150,"k":0.095,"e":0.958},{"p":2,"s":3,"v":150,"k":0.109,"e":0.962},{"p":2,"s":3,"v":150,"k":0.127,"e":0.974},
{"p":2,"s":4,"v":-150,"k":0.127,"e":0.974},{"p":2,"s":4,"v":-150,"k":0.136,"e":0.983},
{"p":2,"s":5,"v":150,"k":0.136,"e":0.983},{"p":2,"s":5,"v":150,"k":0.150,"e":0.992},{"p":2,"s":5,"v":150,"k":0.164,"e":0.995},
{"p":2,"s":6,"v":40,"k":0.164,"e":0.995},{"p":2,"s":6,"v":40,"k":0.173,"e":0.977},
{"p":2,"s":7,"v":-80,"k":0.173,"e":0.977},{"p":2,"s":7,"v":-80,"k":0.184,"e":0.931},{"p":2,"s":7,"v":-80,"k":0.2,"e":0.838},{"p":2,"s":7,"v":-80,"k":0.218,"e":0.731},{"p":2,"s":7,"v":-80,"k":0.236,"e":0.608},{"p":2,"s":7,"v":-80,"k":0.247,"e":0.554},
{"p":2,"s":8,"v":40,"k":0.247,"e":0.554},{"p":2,"s":8,"v":40,"k":0.252,"e":0.534},
{"p":2,"s":9,"v":115,"k":0.252,"e":0.534},{"p":2,"s":9,"v":115,"k":0.266,"e":0.492},{"p":2,"s":9,"v":115,"k":0.280,"e":0.469},{"p":2,"s":9,"v":115,"k":0.293,"e":0.462},{"p":2,"s":9,"v":115,"k":0.303,"e":0.466},
{"p":2,"s":10,"v":-30,"k":0.303,"e":0.466},{"p":2,"s":10,"v":-30,"k":0.311,"e":0.474},
{"p":2,"s":11,"v":-80,"k":0.311,"e":0.474},{"p":2,"s":11,"v":-80,"k":0.323,"e":0.477},{"p":2,"s":11,"v":-80,"k":0.337,"e":0.472},{"p":2,"s":11,"v":-80,"k":0.355,"e":0.408},{"p":2,"s":11,"v":-80,"k":0.375,"e":0.315},{"p":2,"s":11,"v":-80,"k":0.392,"e":0.223},{"p":2,"s":11,"v":-80,"k":0.407,"e":0.115},{"p":2,"s":11,"v":-80,"k":0.419,"e":0.046},
{"p":2,"s":12,"v":60,"k":0.419,"e":0.046},{"p":2,"s":12,"v":60,"k":0.4226,"e":0.031},{"p":2,"s":12,"v":60,"k":0.432,"e":0.046},
{"p":2,"s":13,"v":-80,"k":0.432,"e":0.046},{"p":2,"s":13,"v":-80,"k":0.443,"e":0.115},{"p":2,"s":13,"v":-80,"k":0.457,"e":0.177},{"p":2,"s":13,"v":-80,"k":0.473,"e":0.215},
{"p":2,"s":14,"v":-60,"k":0.473,"e":0.215},{"p":2,"s":14,"v":-60,"k":0.484,"e":0.254},
{"p":2,"s":15,"v":-80,"k":0.484,"e":0.254},{"p":2,"s":15,"v":-80,"k":0.498,"e":0.315},{"p":2,"s":15,"v":-80,"k":0.514,"e":0.408},{"p":2,"s":15,"v":-80,"k":0.532,"e":0.477},{"p":2,"s":15,"v":-80,"k":0.546,"e":0.508},{"p":2,"s":15,"v":-80,"k":0.559,"e":0.512},
{"p":2,"s":16,"v":-30,"k":0.559,"e":0.512},{"p":2,"s":16,"v":-30,"k":0.573,"e":0.492},
{"p":2,"s":17,"v":85,"k":0.573,"e":0.492},{"p":2,"s":17,"v":85,"k":0.587,"e":0.477},{"p":2,"s":17,"v":85,"k":0.607,"e":0.492},{"p":2,"s":17,"v":85,"k":0.634,"e":0.534},{"p":2,"s":17,"v":85,"k":0.662,"e":0.546},{"p":2,"s":17,"v":85,"k":0.682,"e":0.531},
{"p":2,"s":18,"v":-30,"k":0.682,"e":0.531},{"p":2,"s":18,"v":-30,"k":0.692,"e":0.523},
{"p":2,"s":19,"v":-100,"k":0.692,"e":0.523},{"p":2,"s":19,"v":-100,"k":0.709,"e":0.503},{"p":2,"s":19,"v":-100,"k":0.737,"e":0.482},{"p":2,"s":19,"v":-100,"k":0.764,"e":0.466},{"p":2,"s":19,"v":-100,"k":0.7887,"e":0.466},
{"p":2,"s":20,"v":-160,"k":0.7887,"e":0.466},{"p":2,"s":20,"v":-160,"k":0.798,"e":0.531},{"p":2,"s":20,"v":-160,"k":0.808,"e":0.669},{"p":2,"s":20,"v":-160,"k":0.817,"e":0.774},
{"p":2,"s":21,"v":150,"k":0.817,"e":0.774},{"p":2,"s":21,"v":150,"k":0.828,"e":0.785},
{"p":2,"s":22,"v":-165,"k":0.828,"e":0.785},{"p":2,"s":22,"v":-165,"k":0.839,"e":0.754},{"p":2,"s":22,"v":-165,"k":0.853,"e":0.7},{"p":2,"s":22,"v":-165,"k":0.866,"e":0.7},{"p":2,"s":22,"v":-165,"k":0.880,"e":0.738},{"p":2,"s":22,"v":-165,"k":0.900,"e":0.769},{"p":2,"s":22,"v":-165,"k":0.921,"e":0.785},{"p":2,"s":22,"v":-165,"k":0.941,"e":0.8},
{"p":2,"s":23,"v":-40,"k":0.941,"e":0.8},{"p":2,"s":23,"v":-40,"k":0.951,"e":0.811},
{"p":2,"s":24,"v":75,"k":0.951,"e":0.811},{"p":2,"s":24,"v":75,"k":0.969,"e":0.831},{"p":2,"s":24,"v":75,"k":0.986,"e":0.862},{"p":2,"s":24,"v":75,"k":1,"e":0.903},
{"p":2,"s":25,"v":105,"k":0.232,"e":-0.5},{"p":2,"s":25,"v":105,"k":0.241,"e":-0.423},{"p":2,"s":25,"v":105,"k":0.259,"e":-0.362},{"p":2,"s":25,"v":105,"k":0.277,"e":-0.331},{"p":2,"s":25,"v":105,"k":0.293,"e":-0.346},{"p":2,"s":25,"v":105,"k":0.304,"e":-0.377},
{"p":2,"s":26,"v":-90,"k":0.304,"e":-0.377},{"p":2,"s":26,"v":-90,"k":0.321,"e":-0.338},
{"p":2,"s":27,"v":80,"k":0.321,"e":-0.338},{"p":2,"s":27,"v":80,"k":0.341,"e":-0.277},{"p":2,"s":27,"v":80,"k":0.362,"e":-0.223},{"p":2,"s":27,"v":80,"k":0.382,"e":-0.162},{"p":2,"s":27,"v":80,"k":0.402,"e":-0.1},{"p":2,"s":27,"v":80,"k":0.419,"e":-0.046},{"p":2,"s":27,"v":80,"k":0.4226,"e":-0.031},{"p":2,"s":27,"v":80,"k":0.437,"e":-0.054},{"p":2,"s":27,"v":80,"k":0.457,"e":-0.108},{"p":2,"s":27,"v":80,"k":0.477,"e":-0.154},{"p":2,"s":27,"v":80,"k":0.491,"e":-0.169},{"p":2,"s":27,"v":80,"k":0.505,"e":-0.154},{"p":2,"s":27,"v":80,"k":0.523,"e":-0.138},{"p":2,"s":27,"v":80,"k":0.546,"e":-0.146},{"p":2,"s":27,"v":80,"k":0.566,"e":-0.162},{"p":2,"s":27,"v":80,"k":0.580,"e":-0.177},{"p":2,"s":27,"v":80,"k":0.593,"e":-0.215},{"p":2,"s":27,"v":80,"k":0.614,"e":-0.3},{"p":2,"s":27,"v":80,"k":0.632,"e":-0.377},{"p":2,"s":27,"v":80,"k":0.645,"e":-0.438},{"p":2,"s":27,"v":80,"k":0.662,"e":-0.5},

{"p":3,"s":1,"v":90,"k":0.210,"e":1},{"p":3,"s":1,"v":90,"k":0.223,"e":0.911},{"p":3,"s":1,"v":90,"k":0.237,"e":0.803},{"p":3,"s":1,"v":90,"k":0.255,"e":0.711},{"p":3,"s":1,"v":90,"k":0.279,"e":0.649},{"p":3,"s":1,"v":90,"k":0.299,"e":0.611},{"p":3,"s":1,"v":90,"k":0.313,"e":0.595},
{"p":3,"s":2,"v":40,"k":0.313,"e":0.595},{"p":3,"s":2,"v":40,"k":0.318,"e":0.588},
{"p":3,"s":3,"v":-80,"k":0.320,"e":0.642},{"p":3,"s":3,"v":-80,"k":0.334,"e":0.526},{"p":3,"s":3,"v":-80,"k":0.354,"e":0.372},{"p":3,"s":3,"v":-80,"k":0.375,"e":0.218},{"p":3,"s":3,"v":-80,"k":0.396,"e":0.065},{"p":3,"s":3,"v":-80,"k":0.410,"e":-0.028},{"p":3,"s":3,"v":-80,"k":0.417,"e":-0.051},
{"p":3,"s":4,"v":0,"k":0.417,"e":-0.051},{"p":3,"s":4,"v":0,"k":0.4226,"e":-0.06},
{"p":3,"s":5,"v":-80,"k":0.4226,"e":-0.06},{"p":3,"s":5,"v":-80,"k":0.430,"e":-0.028},{"p":3,"s":5,"v":-80,"k":0.444,"e":0.065},{"p":3,"s":5,"v":-80,"k":0.465,"e":0.203},{"p":3,"s":5,"v":-80,"k":0.486,"e":0.342},{"p":3,"s":5,"v":-80,"k":0.506,"e":0.465},{"p":3,"s":5,"v":-80,"k":0.523,"e":0.557},
{"p":3,"s":6,"v":90,"k":0.523,"e":0.557},{"p":3,"s":6,"v":90,"k":0.534,"e":0.595},{"p":3,"s":6,"v":90,"k":0.561,"e":0.68},{"p":3,"s":6,"v":90,"k":0.596,"e":0.742},{"p":3,"s":6,"v":90,"k":0.637,"e":0.795},{"p":3,"s":6,"v":90,"k":0.686,"e":0.818},{"p":3,"s":6,"v":90,"k":0.741,"e":0.831},{"p":3,"s":6,"v":90,"k":0.7887,"e":0.834},
{"p":3,"s":7,"v":15,"k":0.7887,"e":0.834},{"p":3,"s":7,"v":15,"k":0.796,"e":0.88},{"p":3,"s":7,"v":15,"k":0.810,"e":0.957},{"p":3,"s":7,"v":15,"k":0.821,"e":1},
{"p":3,"s":8,"v":90,"k":0,"e":-0.335},{"p":3,"s":8,"v":90,"k":0.017,"e":-0.328},{"p":3,"s":8,"v":90,"k":0.044,"e":-0.343},{"p":3,"s":8,"v":90,"k":0.079,"e":-0.366},{"p":3,"s":8,"v":90,"k":0.109,"e":-0.378},
{"p":3,"s":9,"v":-40,"k":0.109,"e":-0.378},{"p":3,"s":9,"v":-40,"k":0.120,"e":-0.369},
{"p":3,"s":10,"v":-80,"k":0.120,"e":-0.369},{"p":3,"s":10,"v":-80,"k":0.148,"e":-0.343},{"p":3,"s":10,"v":-80,"k":0.182,"e":-0.312},{"p":3,"s":10,"v":-80,"k":0.217,"e":-0.282},{"p":3,"s":10,"v":-80,"k":0.237,"e":-0.243},{"p":3,"s":10,"v":-80,"k":0.251,"e":-0.197},
{"p":3,"s":11,"v":30,"k":0.251,"e":-0.197},{"p":3,"s":11,"v":30,"k":0.261,"e":-0.182},
{"p":3,"s":12,"v":90,"k":0.261,"e":-0.182},{"p":3,"s":12,"v":90,"k":0.279,"e":-0.128},{"p":3,"s":12,"v":90,"k":0.299,"e":-0.12},{"p":3,"s":12,"v":90,"k":0.316,"e":-0.105},
{"p":3,"s":13,"v":-50,"k":0.316,"e":-0.105},{"p":3,"s":13,"v":-50,"k":0.327,"e":-0.089},
{"p":3,"s":14,"v":40,"k":0.327,"e":-0.089},{"p":3,"s":14,"v":40,"k":0.335,"e":-0.074},
{"p":3,"s":15,"v":90,"k":0.335,"e":-0.074},{"p":3,"s":15,"v":90,"k":0.354,"e":-0.04},{"p":3,"s":15,"v":90,"k":0.375,"e":-0.02},{"p":3,"s":15,"v":90,"k":0.389,"e":-0.005},
{"p":3,"s":16,"v":20,"k":0.389,"e":-0.005},{"p":3,"s":16,"v":20,"k":0.403,"e":-0.035},
{"p":3,"s":17,"v":-60,"k":0.403,"e":-0.035},{"p":3,"s":17,"v":-60,"k":0.417,"e":-0.066},
{"p":3,"s":18,"v":150,"k":0.417,"e":-0.066},{"p":3,"s":18,"v":150,"k":0.4226,"e":-0.074},
{"p":3,"s":19,"v":90,"k":0.4226,"e":-0.074},{"p":3,"s":19,"v":90,"k":0.437,"e":-0.058},{"p":3,"s":19,"v":90,"k":0.458,"e":-0.051},{"p":3,"s":19,"v":90,"k":0.479,"e":-0.058},{"p":3,"s":19,"v":90,"k":0.499,"e":-0.046},{"p":3,"s":19,"v":90,"k":0.520,"e":-0.04},{"p":3,"s":19,"v":90,"k":0.541,"e":-0.046},{"p":3,"s":19,"v":90,"k":0.561,"e":-0.066},{"p":3,"s":19,"v":90,"k":0.589,"e":-0.105},{"p":3,"s":19,"v":90,"k":0.617,"e":-0.166},{"p":3,"s":19,"v":90,"k":0.644,"e":-0.243},{"p":3,"s":19,"v":90,"k":0.665,"e":-0.312},{"p":3,"s":19,"v":90,"k":0.692,"e":-0.382},{"p":3,"s":19,"v":90,"k":0.720,"e":-0.42},{"p":3,"s":19,"v":90,"k":0.754,"e":-0.44},{"p":3,"s":19,"v":90,"k":0.7887,"e":-0.446},
{"p":3,"s":20,"v":-165,"k":0.7887,"e":-0.446},{"p":3,"s":20,"v":-165,"k":0.810,"e":-0.482},{"p":3,"s":20,"v":-165,"k":0.837,"e":-0.497},{"p":3,"s":20,"v":-165,"k":0.854,"e":-0.474},{"p":3,"s":20,"v":-165,"k":0.868,"e":-0.405},{"p":3,"s":20,"v":-165,"k":0.881,"e":-0.343},{"p":3,"s":20,"v":-165,"k":0.899,"e":-0.328},
{"p":3,"s":21,"v":30,"k":0.899,"e":-0.328},{"p":3,"s":21,"v":30,"k":0.934,"e":-0.325},{"p":3,"s":21,"v":30,"k":0.968,"e":-0.328},{"p":3,"s":21,"v":30,"k":1,"e":-0.335},
{"p":3,"s":22,"v":-50,"k":0.92,"e":-0.335},{"p":3,"s":22,"v":-50,"k":0.928,"e":-0.374},
{"p":3,"s":23,"v":-110,"k":0.928,"e":-0.374},{"p":3,"s":23,"v":-110,"k":0.937,"e":-0.405},{"p":3,"s":23,"v":-110,"k":0.950,"e":-0.389},

{"p":4,"s":1,"v":90,"k":0,"e":0.834},{"p":4,"s":1,"v":90,"k":0.011,"e":0.811},{"p":4,"s":1,"v":90,"k":0.025,"e":0.795},{"p":4,"s":1,"v":90,"k":0.043,"e":0.857},{"p":4,"s":1,"v":90,"k":0.059,"e":0.903},{"p":4,"s":1,"v":90,"k":0.080,"e":0.918},{"p":4,"s":1,"v":90,"k":0.115,"e":0.911},{"p":4,"s":1,"v":90,"k":0.149,"e":0.923},{"p":4,"s":1,"v":90,"k":0.156,"e":0.934},
{"p":4,"s":2,"v":20,"k":0.156,"e":0.934},{"p":4,"s":2,"v":20,"k":0.163,"e":0.957},
{"p":4,"s":3,"v":-80,"k":0.163,"e":0.957},{"p":4,"s":3,"v":-80,"k":0.170,"e":0.963},{"p":4,"s":3,"v":-80,"k":0.184,"e":0.911},
{"p":4,"s":4,"v":50,"k":0.184,"e":0.911},{"p":4,"s":4,"v":50,"k":0.195,"e":0.865},
{"p":4,"s":5,"v":5,"k":0.195,"e":0.865},{"p":4,"s":5,"v":5,"k":0.204,"e":0.818},
{"p":4,"s":6,"v":-80,"k":0.204,"e":0.818},{"p":4,"s":6,"v":-80,"k":0.218,"e":0.757},{"p":4,"s":6,"v":-80,"k":0.232,"e":0.665},{"p":4,"s":6,"v":-80,"k":0.243,"e":0.603},{"p":4,"s":6,"v":-80,"k":0.25,"e":0.58},
{"p":4,"s":7,"v":20,"k":0.25,"e":0.58},{"p":4,"s":7,"v":20,"k":0.256,"e":0.557},
{"p":4,"s":8,"v":90,"k":0.256,"e":0.557},{"p":4,"s":8,"v":90,"k":0.267,"e":0.48},{"p":4,"s":8,"v":90,"k":0.280,"e":0.434},{"p":4,"s":8,"v":90,"k":0.294,"e":0.426},{"p":4,"s":8,"v":90,"k":0.311,"e":0.449},{"p":4,"s":8,"v":90,"k":0.319,"e":0.468},
{"p":4,"s":9,"v":-80,"k":0.319,"e":0.468},{"p":4,"s":9,"v":-80,"k":0.329,"e":0.488},{"p":4,"s":9,"v":-80,"k":0.343,"e":0.465},{"p":4,"s":9,"v":-80,"k":0.356,"e":0.388},{"p":4,"s":9,"v":-80,"k":0.374,"e":0.28},{"p":4,"s":9,"v":-80,"k":0.391,"e":0.172},{"p":4,"s":9,"v":-80,"k":0.409,"e":0.065},{"p":4,"s":9,"v":-80,"k":0.4226,"e":0.038},{"p":4,"s":9,"v":-80,"k":0.432,"e":0.065},{"p":4,"s":9,"v":-80,"k":0.446,"e":0.142},{"p":4,"s":9,"v":-80,"k":0.463,"e":0.203},{"p":4,"s":9,"v":-80,"k":0.481,"e":0.249},{"p":4,"s":9,"v":-80,"k":0.501,"e":0.342},{"p":4,"s":9,"v":-80,"k":0.518,"e":0.449},{"p":4,"s":9,"v":-80,"k":0.536,"e":0.518},{"p":4,"s":9,"v":-80,"k":0.552,"e":0.542},{"p":4,"s":9,"v":-80,"k":0.566,"e":0.526},
{"p":4,"s":10,"v":20,"k":0.566,"e":0.526},{"p":4,"s":10,"v":20,"k":0.577,"e":0.503},
{"p":4,"s":11,"v":90,"k":0.577,"e":0.503},{"p":4,"s":11,"v":90,"k":0.591,"e":0.48},{"p":4,"s":11,"v":90,"k":0.609,"e":0.465},{"p":4,"s":11,"v":90,"k":0.633,"e":0.488},{"p":4,"s":11,"v":90,"k":0.660,"e":0.526},{"p":4,"s":11,"v":90,"k":0.688,"e":0.534},{"p":4,"s":11,"v":90,"k":0.715,"e":0.518},{"p":4,"s":11,"v":90,"k":0.750,"e":0.488},{"p":4,"s":11,"v":90,"k":0.7887,"e":0.472},
{"p":4,"s":12,"v":10,"k":0.7887,"e":0.472},{"p":4,"s":12,"v":10,"k":0.798,"e":0.518},{"p":4,"s":12,"v":10,"k":0.812,"e":0.603},{"p":4,"s":12,"v":10,"k":0.826,"e":0.68},{"p":4,"s":12,"v":10,"k":0.836,"e":0.726},
{"p":4,"s":13,"v":-150,"k":0.836,"e":0.726},{"p":4,"s":13,"v":-150,"k":0.847,"e":0.748},
{"p":4,"s":14,"v":-60,"k":0.847,"e":0.748},{"p":4,"s":14,"v":-60,"k":0.863,"e":0.718},
{"p":4,"s":15,"v":-165,"k":0.863,"e":0.718},{"p":4,"s":15,"v":-165,"k":0.881,"e":0.688},{"p":4,"s":15,"v":-165,"k":0.902,"e":0.711},{"p":4,"s":15,"v":-165,"k":0.930,"e":0.769},{"p":4,"s":15,"v":-165,"k":0.957,"e":0.795},{"p":4,"s":15,"v":-165,"k":0.978,"e":0.795},
{"p":4,"s":16,"v":35,"k":0.978,"e":0.795},{"p":4,"s":16,"v":35,"k":0.989,"e":0.826},{"p":4,"s":16,"v":35,"k":1,"e":0.831},
{"p":4,"s":17,"v":-80,"k":0.052,"e":0.918},{"p":4,"s":17,"v":-80,"k":0.066,"e":0.965},{"p":4,"s":17,"v":-80,"k":0.080,"e":0.969},{"p":4,"s":17,"v":-80,"k":0.094,"e":0.949},
{"p":4,"s":18,"v":90,"k":0.225,"e":-0.508},{"p":4,"s":18,"v":90,"k":0.242,"e":-0.412},{"p":4,"s":18,"v":90,"k":0.26,"e":-0.351},{"p":4,"s":18,"v":90,"k":0.280,"e":-0.328},{"p":4,"s":18,"v":90,"k":0.294,"e":-0.343},
{"p":4,"s":19,"v":-80,"k":0.294,"e":-0.343},{"p":4,"s":19,"v":-80,"k":0.308,"e":-0.305},{"p":4,"s":19,"v":-80,"k":0.329,"e":-0.251},{"p":4,"s":19,"v":-80,"k":0.343,"e":-0.212},
{"p":4,"s":20,"v":90,"k":0.343,"e":-0.212},{"p":4,"s":20,"v":90,"k":0.356,"e":-0.166},{"p":4,"s":20,"v":90,"k":0.370,"e":-0.12},{"p":4,"s":20,"v":90,"k":0.380,"e":-0.097},
{"p":4,"s":21,"v":-60,"k":0.380,"e":-0.097},{"p":4,"s":21,"v":-60,"k":0.388,"e":-0.082},
{"p":4,"s":22,"v":90,"k":0.388,"e":-0.082},{"p":4,"s":22,"v":90,"k":0.405,"e":-0.051},{"p":4,"s":22,"v":90,"k":0.4226,"e":-0.028},{"p":4,"s":22,"v":90,"k":0.435,"e":-0.043},{"p":4,"s":22,"v":90,"k":0.453,"e":-0.082},{"p":4,"s":22,"v":90,"k":0.471,"e":-0.12},{"p":4,"s":22,"v":90,"k":0.487,"e":-0.135},{"p":4,"s":22,"v":90,"k":0.504,"e":-0.12},{"p":4,"s":22,"v":90,"k":0.518,"e":-0.097},{"p":4,"s":22,"v":90,"k":0.529,"e":-0.089},
{"p":4,"s":23,"v":-80,"k":0.529,"e":-0.089},{"p":4,"s":23,"v":-80,"k":0.543,"e":-0.105},{"p":4,"s":23,"v":-80,"k":0.557,"e":-0.128},
{"p":4,"s":24,"v":90,"k":0.557,"e":-0.128},{"p":4,"s":24,"v":90,"k":0.577,"e":-0.166},{"p":4,"s":24,"v":90,"k":0.595,"e":-0.228},{"p":4,"s":24,"v":90,"k":0.612,"e":-0.305},{"p":4,"s":24,"v":90,"k":0.628,"e":-0.382},{"p":4,"s":24,"v":90,"k":0.646,"e":-0.459},{"p":4,"s":24,"v":90,"k":0.656,"e":-0.508}
],
"inset":[{"p":1,"k":0.785,"e":0.155},{"p":2,"k":0.783,"e":0.165},{"p":3,"k":0.782,"e":0.174},{"p":4,"k":0.782,"e":0.174}],
"labels":[
{"p":1,"k":0.937,"e":0.241,"t":"3"},{"p":1,"k":0.937,"e":0.155,"t":"2"},{"p":1,"k":0.937,"e":0.069,"t":"1"},
{"p":2,"k":0.94,"e":0.251,"t":"3"},{"p":2,"k":0.94,"e":0.165,"t":"2"},{"p":2,"k":0.94,"e":0.079,"t":"1"},
{"p":3,"k":0.94,"e":0.26,"t":"3"},{"p":3,"k":0.94,"e":0.174,"t":"2"},{"p":3,"k":0.94,"e":0.088,"t":"1"},
{"p":4,"k":0.945,"e":0.26,"t":"3"},{"p":4,"k":0.945,"e":0.174,"t":"2"},{"p":4,"k":0.945,"e":0.088,"t":"1"}
],
"twin":[{"p":3,"k":0.788,"e":0.33,"t":"Twin"},{"p":4,"k":0.785,"e":0.33,"t":"Twin"}],
"arrow":[{"p":3,"k":0.616,"e":0.131},{"p":4,"k":0.607,"e":0.131}]
},
"vconcat":[
{"hconcat":[
{"width":242,"height":325,"title":{"text":"Bi₂Te₃"},
 "encoding":{
  "x":{"field":"k","type":"quantitative","scale":{"domain":[0,1],"nice":false,"zero":false},"axis":{"values":[0,0.4226,0.7887,1],"labelExpr":"datum.value < 0.2 ? 'K' : datum.value < 0.6 ? 'Γ' : datum.value < 0.9 ? 'M' : 'K'","labelFont":{"condition":{"test":"abs(datum.value - 0.4226) < 0.01","value":"Liberation Serif"},"value":"Liberation Sans"},"grid":true,"gridColor":"#d4d4d4","gridOpacity":{"condition":{"test":"datum.value > 0.01 && datum.value < 0.99","value":1},"value":0},"labelFlush":false,"labelOverlap":false,"labelPadding":4,"title":null}},
  "y":{"field":"e","type":"quantitative","scale":{"domain":[-0.5,1],"nice":false,"zero":false},"axis":{"values":[-0.5,0,0.5,1],"labelExpr":"datum.value == -0.5 ? '-0.5' : datum.value == 0 ? '0' : datum.value == 0.5 ? '0.5' : '1'","grid":false,"title":"E-Ef (eV)","titlePadding":5,"labelPadding":6}}
 },
 "layer":[
  {"data":{"name":"bands"},"transform":[{"filter":"datum.p == 1"}],"mark":{"type":"line","color":"#111","strokeWidth":1.4,"clip":true},"encoding":{"detail":{"field":"b","type":"nominal"}}},
  {"data":{"name":"hl"},"transform":[{"filter":"datum.p == 1"}],"mark":{"type":"line","strokeWidth":4.6,"strokeCap":"round","clip":true},"encoding":{"detail":{"field":"s","type":"nominal"},"color":{"field":"v","type":"quantitative","scale":{"domain":[-180,-135,-90,-45,0,45,90,135,180],"range":["#000080","#0000ff","#0080ff","#00ffff","#80ff80","#ffff00","#ff8000","#ff0000","#800000"],"interpolate":"rgb"},"legend":{"orient":"none","legendX":560,"legendY":222,"title":null,"gradientLength":262,"gradientThickness":11,"values":[-150,-100,-50,0,50,100,150],"labelExpr":"'' + datum.value","labelFontSize":11,"labelFont":"Liberation Sans","labelColor":"#333","gradientStrokeColor":"#444","gradientStrokeWidth":0.6,"labelOffset":3,"direction":"vertical","padding":0,"labelOverlap":false}}}},
  {"data":{"name":"inset"},"transform":[{"filter":"datum.p == 1"}],"mark":{"type":"point","shape":"M-1,-0.9H1V-0.38H-1Z M-1,-0.26H1V0.26H-1Z M-1,0.38H1V0.9H-1Z","size":3364,"filled":true,"fill":"#3b5ca6","stroke":"#2d4e93","strokeWidth":2,"opacity":1}},
  {"data":{"name":"inset"},"transform":[{"filter":"datum.p == 1"}],"mark":{"type":"point","shape":"M-0.92,-0.58L-0.80,-0.46M-0.92,-0.82L-0.56,-0.46M-0.68,-0.82L-0.32,-0.46M-0.44,-0.82L-0.08,-0.46M-0.20,-0.82L0.16,-0.46M0.04,-0.82L0.40,-0.46M0.28,-0.82L0.64,-0.46M0.52,-0.82L0.88,-0.46M0.76,-0.82L0.92,-0.66M-0.92,0.06L-0.80,0.18M-0.92,-0.18L-0.56,0.18M-0.68,-0.18L-0.32,0.18M-0.44,-0.18L-0.08,0.18M-0.20,-0.18L0.16,0.18M0.04,-0.18L0.40,0.18M0.28,-0.18L0.64,0.18M0.52,-0.18L0.88,0.18M0.76,-0.18L0.92,-0.02M-0.92,0.70L-0.80,0.82M-0.92,0.46L-0.56,0.82M-0.68,0.46L-0.32,0.82M-0.44,0.46L-0.08,0.82M-0.20,0.46L0.16,0.82M0.04,0.46L0.40,0.82M0.28,0.46L0.64,0.82M0.52,0.46L0.88,0.82M0.76,0.46L0.92,0.62","size":3364,"filled":false,"stroke":"white","strokeWidth":2.2,"opacity":1}},
  {"data":{"name":"labels"},"transform":[{"filter":"datum.p == 1"}],"mark":{"type":"text","font":"Liberation Sans","fontWeight":"bold","fontSize":16,"color":"#c4302b"},"encoding":{"text":{"field":"t"}}}
 ]},
{"width":245,"height":325,"title":{"text":"Sb₂Te₃"},
 "encoding":{
  "x":{"field":"k","type":"quantitative","scale":{"domain":[0,1],"nice":false,"zero":false},"axis":{"values":[0,0.4226,0.7887,1],"labelExpr":"datum.value < 0.2 ? 'K' : datum.value < 0.6 ? 'Γ' : datum.value < 0.9 ? 'M' : 'K'","labelFont":{"condition":{"test":"abs(datum.value - 0.4226) < 0.01","value":"Liberation Serif"},"value":"Liberation Sans"},"grid":true,"gridColor":"#d4d4d4","gridOpacity":{"condition":{"test":"datum.value > 0.01 && datum.value < 0.99","value":1},"value":0},"labelFlush":false,"labelOverlap":false,"labelPadding":4,"title":null}},
  "y":{"field":"e","type":"quantitative","scale":{"domain":[-0.5,1],"nice":false,"zero":false},"axis":{"values":[-0.5,0,0.5,1],"labelExpr":"datum.value == -0.5 ? '-0.5' : datum.value == 0 ? '0' : datum.value == 0.5 ? '0.5' : '1'","grid":false,"title":null,"labelPadding":6}}
 },
 "layer":[
  {"data":{"name":"bands"},"transform":[{"filter":"datum.p == 2"}],"mark":{"type":"line","color":"#111","strokeWidth":1.4,"clip":true},"encoding":{"detail":{"field":"b","type":"nominal"}}},
  {"data":{"name":"hl"},"transform":[{"filter":"datum.p == 2"}],"mark":{"type":"line","strokeWidth":4.6,"strokeCap":"round","clip":true},"encoding":{"detail":{"field":"s","type":"nominal"},"color":{"field":"v","type":"quantitative","scale":{"domain":[-180,-135,-90,-45,0,45,90,135,180],"range":["#000080","#0000ff","#0080ff","#00ffff","#80ff80","#ffff00","#ff8000","#ff0000","#800000"],"interpolate":"rgb"},"legend":{"orient":"none","legendX":560,"legendY":222,"title":null,"gradientLength":262,"gradientThickness":11,"values":[-150,-100,-50,0,50,100,150],"labelExpr":"'' + datum.value","labelFontSize":11,"labelFont":"Liberation Sans","labelColor":"#333","gradientStrokeColor":"#444","gradientStrokeWidth":0.6,"labelOffset":3,"direction":"vertical","padding":0,"labelOverlap":false}}}},
  {"data":{"name":"inset"},"transform":[{"filter":"datum.p == 2"}],"mark":{"type":"point","shape":"M-1,-0.9H1V-0.38H-1Z M-1,-0.26H1V0.26H-1Z M-1,0.38H1V0.9H-1Z","size":3364,"filled":true,"fill":"#3b5ca6","stroke":"#2d4e93","strokeWidth":2,"opacity":1}},
  {"data":{"name":"inset"},"transform":[{"filter":"datum.p == 2"}],"mark":{"type":"point","shape":"M-0.92,-0.58L-0.80,-0.46M-0.92,-0.82L-0.56,-0.46M-0.68,-0.82L-0.32,-0.46M-0.44,-0.82L-0.08,-0.46M-0.20,-0.82L0.16,-0.46M0.04,-0.82L0.40,-0.46M0.28,-0.82L0.64,-0.46M0.52,-0.82L0.88,-0.46M0.76,-0.82L0.92,-0.66M-0.92,0.06L-0.80,0.18M-0.92,-0.18L-0.56,0.18M-0.68,-0.18L-0.32,0.18M-0.44,-0.18L-0.08,0.18M-0.20,-0.18L0.16,0.18M0.04,-0.18L0.40,0.18M0.28,-0.18L0.64,0.18M0.52,-0.18L0.88,0.18M0.76,-0.18L0.92,-0.02M-0.92,0.70L-0.80,0.82M-0.92,0.46L-0.56,0.82M-0.68,0.46L-0.32,0.82M-0.44,0.46L-0.08,0.82M-0.20,0.46L0.16,0.82M0.04,0.46L0.40,0.82M0.28,0.46L0.64,0.82M0.52,0.46L0.88,0.82M0.76,0.46L0.92,0.62","size":3364,"filled":false,"stroke":"white","strokeWidth":2.2,"opacity":1}},
  {"data":{"name":"labels"},"transform":[{"filter":"datum.p == 2"}],"mark":{"type":"text","font":"Liberation Sans","fontWeight":"bold","fontSize":16,"color":"#c4302b"},"encoding":{"text":{"field":"t"}}}
 ]}
],"spacing":19},
{"hconcat":[
{"width":242,"height":327,
 "encoding":{
  "x":{"field":"k","type":"quantitative","scale":{"domain":[0,1],"nice":false,"zero":false},"axis":{"values":[0,0.4226,0.7887,1],"labelExpr":"datum.value < 0.2 ? 'K' : datum.value < 0.6 ? 'Γ' : datum.value < 0.9 ? 'M' : 'K'","labelFont":{"condition":{"test":"abs(datum.value - 0.4226) < 0.01","value":"Liberation Serif"},"value":"Liberation Sans"},"grid":true,"gridColor":"#d4d4d4","gridOpacity":{"condition":{"test":"datum.value > 0.01 && datum.value < 0.99","value":1},"value":0},"labelFlush":false,"labelOverlap":false,"labelPadding":4,"title":null}},
  "y":{"field":"e","type":"quantitative","scale":{"domain":[-0.5,1],"nice":false,"zero":false},"axis":{"values":[-0.5,0,0.5,1],"labelExpr":"datum.value == -0.5 ? '-0.5' : datum.value == 0 ? '0' : datum.value == 0.5 ? '0.5' : '1'","grid":false,"title":"E-Ef (eV)","titlePadding":5,"labelPadding":6}}
 },
 "layer":[
  {"data":{"name":"bands"},"transform":[{"filter":"datum.p == 3"}],"mark":{"type":"line","color":"#111","strokeWidth":1.4,"clip":true},"encoding":{"detail":{"field":"b","type":"nominal"}}},
  {"data":{"name":"hl"},"transform":[{"filter":"datum.p == 3"}],"mark":{"type":"line","strokeWidth":4.6,"strokeCap":"round","clip":true},"encoding":{"detail":{"field":"s","type":"nominal"},"color":{"field":"v","type":"quantitative","scale":{"domain":[-180,-135,-90,-45,0,45,90,135,180],"range":["#000080","#0000ff","#0080ff","#00ffff","#80ff80","#ffff00","#ff8000","#ff0000","#800000"],"interpolate":"rgb"},"legend":{"orient":"none","legendX":560,"legendY":222,"title":null,"gradientLength":262,"gradientThickness":11,"values":[-150,-100,-50,0,50,100,150],"labelExpr":"'' + datum.value","labelFontSize":11,"labelFont":"Liberation Sans","labelColor":"#333","gradientStrokeColor":"#444","gradientStrokeWidth":0.6,"labelOffset":3,"direction":"vertical","padding":0,"labelOverlap":false}}}},
  {"data":{"name":"inset"},"transform":[{"filter":"datum.p == 3"}],"mark":{"type":"point","shape":"M-1,-0.9H1V-0.38H-1Z M-1,-0.26H1V0.26H-1Z M-1,0.38H1V0.9H-1Z","size":3364,"filled":true,"fill":"#3b5ca6","stroke":"#2d4e93","strokeWidth":2,"opacity":1}},
  {"data":{"name":"inset"},"transform":[{"filter":"datum.p == 3"}],"mark":{"type":"point","shape":"M-0.92,-0.58L-0.80,-0.46M-0.92,-0.82L-0.56,-0.46M-0.68,-0.82L-0.32,-0.46M-0.44,-0.82L-0.08,-0.46M-0.20,-0.82L0.16,-0.46M0.04,-0.82L0.40,-0.46M0.28,-0.82L0.64,-0.46M0.52,-0.82L0.88,-0.46M0.76,-0.82L0.92,-0.66M-0.92,0.06L-0.80,0.18M-0.92,-0.18L-0.56,0.18M-0.68,-0.18L-0.32,0.18M-0.44,-0.18L-0.08,0.18M-0.20,-0.18L0.16,0.18M0.04,-0.18L0.40,0.18M0.28,-0.18L0.64,0.18M0.52,-0.18L0.88,0.18M0.76,-0.18L0.92,-0.02M-0.92,0.58L-0.80,0.46M-0.92,0.82L-0.56,0.46M-0.68,0.82L-0.32,0.46M-0.44,0.82L-0.08,0.46M-0.20,0.82L0.16,0.46M0.04,0.82L0.40,0.46M0.28,0.82L0.64,0.46M0.52,0.82L0.88,0.46M0.76,0.82L0.92,0.66","size":3364,"filled":false,"stroke":"white","strokeWidth":2.2,"opacity":1}},
  {"data":{"name":"labels"},"transform":[{"filter":"datum.p == 3"}],"mark":{"type":"text","font":"Liberation Sans","fontWeight":"bold","fontSize":16,"color":"#c4302b"},"encoding":{"text":{"field":"t"}}},
  {"data":{"name":"twin"},"transform":[{"filter":"datum.p == 3"}],"mark":{"type":"text","font":"Liberation Sans","fontWeight":"bold","fontSize":13,"color":"#c4302b"},"encoding":{"text":{"field":"t"}}},
  {"data":{"name":"arrow"},"transform":[{"filter":"datum.p == 3"}],"mark":{"type":"point","shape":"M-1,-0.3L0.1,-0.3L0.1,-0.75L1,0L0.1,0.75L0.1,0.3L-1,0.3Z","size":225,"filled":true,"fill":"white","stroke":"#c4302b","strokeWidth":1.3,"opacity":1}}
 ]},
{"width":242,"height":327,
 "encoding":{
  "x":{"field":"k","type":"quantitative","scale":{"domain":[0,1],"nice":false,"zero":false},"axis":{"values":[0,0.4226,0.7887,1],"labelExpr":"datum.value < 0.2 ? 'K' : datum.value < 0.6 ? 'Γ' : datum.value < 0.9 ? 'M' : 'K'","labelFont":{"condition":{"test":"abs(datum.value - 0.4226) < 0.01","value":"Liberation Serif"},"value":"Liberation Sans"},"grid":true,"gridColor":"#d4d4d4","gridOpacity":{"condition":{"test":"datum.value > 0.01 && datum.value < 0.99","value":1},"value":0},"labelFlush":false,"labelOverlap":false,"labelPadding":4,"title":null}},
  "y":{"field":"e","type":"quantitative","scale":{"domain":[-0.5,1],"nice":false,"zero":false},"axis":{"values":[-0.5,0,0.5,1],"labelExpr":"datum.value == -0.5 ? '-0.5' : datum.value == 0 ? '0' : datum.value == 0.5 ? '0.5' : '1'","grid":false,"title":null,"labelPadding":6}}
 },
 "layer":[
  {"data":{"name":"bands"},"transform":[{"filter":"datum.p == 4"}],"mark":{"type":"line","color":"#111","strokeWidth":1.4,"clip":true},"encoding":{"detail":{"field":"b","type":"nominal"}}},
  {"data":{"name":"hl"},"transform":[{"filter":"datum.p == 4"}],"mark":{"type":"line","strokeWidth":4.6,"strokeCap":"round","clip":true},"encoding":{"detail":{"field":"s","type":"nominal"},"color":{"field":"v","type":"quantitative","scale":{"domain":[-180,-135,-90,-45,0,45,90,135,180],"range":["#000080","#0000ff","#0080ff","#00ffff","#80ff80","#ffff00","#ff8000","#ff0000","#800000"],"interpolate":"rgb"},"legend":{"orient":"none","legendX":560,"legendY":222,"title":null,"gradientLength":262,"gradientThickness":11,"values":[-150,-100,-50,0,50,100,150],"labelExpr":"'' + datum.value","labelFontSize":11,"labelFont":"Liberation Sans","labelColor":"#333","gradientStrokeColor":"#444","gradientStrokeWidth":0.6,"labelOffset":3,"direction":"vertical","padding":0,"labelOverlap":false}}}},
  {"data":{"name":"inset"},"transform":[{"filter":"datum.p == 4"}],"mark":{"type":"point","shape":"M-1,-0.9H1V-0.38H-1Z M-1,-0.26H1V0.26H-1Z M-1,0.38H1V0.9H-1Z","size":3364,"filled":true,"fill":"#3b5ca6","stroke":"#2d4e93","strokeWidth":2,"opacity":1}},
  {"data":{"name":"inset"},"transform":[{"filter":"datum.p == 4"}],"mark":{"type":"point","shape":"M-0.92,-0.58L-0.80,-0.46M-0.92,-0.82L-0.56,-0.46M-0.68,-0.82L-0.32,-0.46M-0.44,-0.82L-0.08,-0.46M-0.20,-0.82L0.16,-0.46M0.04,-0.82L0.40,-0.46M0.28,-0.82L0.64,-0.46M0.52,-0.82L0.88,-0.46M0.76,-0.82L0.92,-0.66M-0.92,0.06L-0.80,0.18M-0.92,-0.18L-0.56,0.18M-0.68,-0.18L-0.32,0.18M-0.44,-0.18L-0.08,0.18M-0.20,-0.18L0.16,0.18M0.04,-0.18L0.40,0.18M0.28,-0.18L0.64,0.18M0.52,-0.18L0.88,0.18M0.76,-0.18L0.92,-0.02M-0.92,0.58L-0.80,0.46M-0.92,0.82L-0.56,0.46M-0.68,0.82L-0.32,0.46M-0.44,0.82L-0.08,0.46M-0.20,0.82L0.16,0.46M0.04,0.82L0.40,0.46M0.28,0.82L0.64,0.46M0.52,0.82L0.88,0.46M0.76,0.82L0.92,0.66","size":3364,"filled":false,"stroke":"white","strokeWidth":2.2,"opacity":1}},
  {"data":{"name":"labels"},"transform":[{"filter":"datum.p == 4"}],"mark":{"type":"text","font":"Liberation Sans","fontWeight":"bold","fontSize":16,"color":"#c4302b"},"encoding":{"text":{"field":"t"}}},
  {"data":{"name":"twin"},"transform":[{"filter":"datum.p == 4"}],"mark":{"type":"text","font":"Liberation Sans","fontWeight":"bold","fontSize":13,"color":"#c4302b"},"encoding":{"text":{"field":"t"}}},
  {"data":{"name":"arrow"},"transform":[{"filter":"datum.p == 4"}],"mark":{"type":"point","shape":"M-1,-0.3L0.1,-0.3L0.1,-0.75L1,0L0.1,0.75L0.1,0.3L-1,0.3Z","size":225,"filled":true,"fill":"white","stroke":"#c4302b","strokeWidth":1.3,"opacity":1}}
 ]}
],"spacing":19}
],
"spacing":14
}
